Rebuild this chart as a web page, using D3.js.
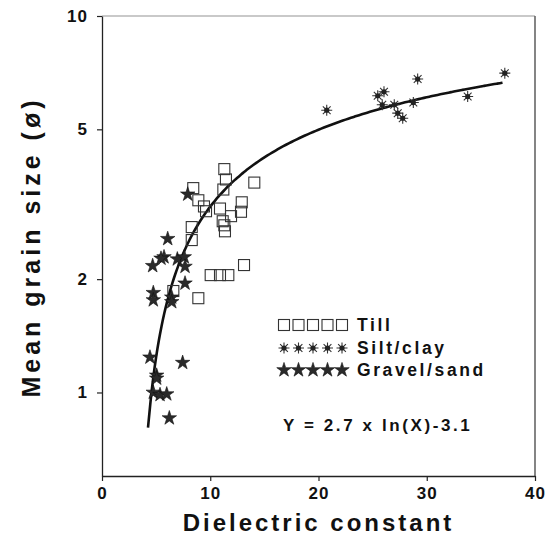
<!DOCTYPE html>
<html>
<head>
<meta charset="utf-8">
<script src="https://cdn.jsdelivr.net/npm/d3@7"></script>
<style>
  body { margin: 0; background: #fff; }
  svg text { font-family: "Liberation Sans", Arial, sans-serif; font-weight: bold; fill: #111; }
</style>
</head>
<body>
<div id="chart"></div>
<script>
// Till (open squares)
var tillX = [11.30, 11.45, 11.21, 14.07, 8.43, 8.90, 9.42, 9.61, 10.90, 12.91, 12.84, 11.92,
             11.15, 11.30, 11.36, 8.29, 8.29, 10.04, 10.90, 11.67, 13.12, 8.90, 6.59];
var tillY = [3.92, 3.68, 3.46, 3.61, 3.49, 3.24, 3.12, 3.03, 3.08, 3.20, 3.02, 2.94,
             2.85, 2.78, 2.68, 2.75, 2.54, 2.05, 2.05, 2.05, 2.18, 1.78, 1.86];
// Silt/clay (asterisks)
var siltX = [20.76, 25.47, 26.05, 25.89, 27.00, 27.32, 27.78, 29.16, 28.76, 33.78, 37.21];
var siltY = [5.62, 6.14, 6.29, 5.81, 5.81, 5.52, 5.35, 6.80, 5.89, 6.11, 7.05];
// Gravel/sand (stars)
var gravelX = [7.92, 6.07, 5.73, 5.45, 4.68, 6.96, 7.60, 7.67, 7.67, 4.74, 4.74, 6.44,
               6.44, 4.43, 7.45, 5.05, 5.05, 4.74, 5.36, 5.98, 6.22];
var gravelY = [3.36, 2.56, 2.29, 2.27, 2.17, 2.26, 2.29, 2.16, 1.95, 1.84, 1.76, 1.79,
               1.74, 1.24, 1.20, 1.11, 1.09, 1.00, 0.986, 0.99, 0.855];
// fitted curve Y = a ln(X) + b
var fitA = 2.7, fitB = -3.1;
var fitRange = [4.25, 37];

var xTicks = [0, 10, 20, 30, 40];
var yTicks = [1, 2, 5, 10];
var legendLabels = ["Till", "Silt/clay", "Gravel/sand"];

var width = 550, height = 539;
var plotL = 102, plotR = 535, plotT = 16, plotB = 476;

var svg = d3.select("#chart").append("svg")
    .attr("width", width)
    .attr("height", height);

var x = d3.scaleLinear().domain([0, 40]).range([plotL, plotR]);
var y = d3.scaleLog().domain([0.6, 10]).range([plotB, plotT]);

// frame
svg.append("line").attr("x1", plotR).attr("x2", plotR).attr("y1", plotT).attr("y2", plotB)
    .attr("stroke", "#333").attr("stroke-width", 1.2);
svg.append("line").attr("x1", plotL).attr("x2", plotR).attr("y1", plotT).attr("y2", plotT)
    .attr("stroke", "#666").attr("stroke-width", 0.7);

var xAxis = svg.append("g")
    .attr("transform", "translate(0," + plotB + ")")
    .call(d3.axisBottom(x).tickValues(xTicks).tickSize(5).tickPadding(6).tickSizeOuter(0));
var yAxis = svg.append("g")
    .attr("transform", "translate(" + plotL + ",0)")
    .call(d3.axisLeft(y).tickValues(yTicks).tickFormat(function(d) { return d; })
        .tickSize(5).tickPadding(9).tickSizeOuter(0));

[xAxis, yAxis].forEach(function(g) {
    g.select(".domain").attr("stroke", "#222").attr("stroke-width", 1.3);
    g.selectAll(".tick line").attr("stroke", "#222").attr("stroke-width", 1.2);
    g.selectAll(".tick text").style("font-size", "17px").style("letter-spacing", "1px").attr("fill", "#111");
});

// axis titles
svg.append("text")
    .attr("x", (plotL + plotR) / 2)
    .attr("y", 531)
    .attr("text-anchor", "middle")
    .style("font-size", "24px")
    .style("letter-spacing", "3px")
    .text("Dielectric constant");

svg.append("text")
    .attr("transform", "translate(40,247) rotate(-90)")
    .attr("text-anchor", "middle")
    .style("font-size", "25px")
    .style("letter-spacing", "4px")
    .text("Mean grain size (ø)");

// fitted curve
var curveX = d3.range(fitRange[0], fitRange[1] + 0.001, 0.25);
var line = d3.line()
    .x(function(d) { return x(d); })
    .y(function(d) { return y(fitA * Math.log(d) + fitB); })
    .curve(d3.curveBasis);
svg.append("path")
    .datum(curveX)
    .attr("d", line)
    .attr("fill", "none")
    .attr("stroke", "#111")
    .attr("stroke-width", 2.6);

// marker drawers
function drawSquare(g, cx, cy) {
    g.append("rect")
        .attr("x", cx - 5.5).attr("y", cy - 5.5)
        .attr("width", 11).attr("height", 11)
        .attr("fill", "none").attr("stroke", "#333").attr("stroke-width", 1.1);
}
var starPath = d3.symbol().type(d3.symbolStar).size(65)();
function drawStar(g, cx, cy) {
    g.append("path")
        .attr("d", starPath)
        .attr("transform", "translate(" + cx + "," + cy + ")")
        .attr("fill", "#2a2a2a").attr("stroke", "#111").attr("stroke-width", 0.6);
}
function drawAsterisk(g, cx, cy) {
    var r = 5.5, p = "";
    for (var i = 0; i < 4; i++) {
        var a = i * Math.PI / 4;
        p += "M" + (cx - r * Math.cos(a)) + "," + (cy - r * Math.sin(a)) +
             "L" + (cx + r * Math.cos(a)) + "," + (cy + r * Math.sin(a));
    }
    g.append("path").attr("d", p).attr("stroke", "#333").attr("stroke-width", 1.1);
    g.append("circle").attr("cx", cx).attr("cy", cy).attr("r", 2.6).attr("fill", "#222");
}

var pts = svg.append("g");
tillX.forEach(function(d, i) { drawSquare(pts, x(d), y(tillY[i])); });
siltX.forEach(function(d, i) { drawAsterisk(pts, x(d), y(siltY[i])); });
gravelX.forEach(function(d, i) { drawStar(pts, x(d), y(gravelY[i])); });

// legend
var legend = svg.append("g");
var drawers = [drawSquare, drawAsterisk, drawStar];
var rowY = [325, 348, 370];
legendLabels.forEach(function(lab, i) {
    for (var k = 0; k < 5; k++) {
        drawers[i](legend, 284 + k * 14.5, rowY[i]);
    }
    legend.append("text")
        .attr("x", 357)
        .attr("y", rowY[i] + 6)
        .style("font-size", "17.5px")
        .style("letter-spacing", "2.6px")
        .text(lab);
});

svg.append("text")
    .attr("x", 283)
    .attr("y", 431)
    .style("font-size", "17px")
    .style("letter-spacing", "2.6px")
    .text("Y = " + fitA + " x ln(X)" + fitB);
</script>
</body>
</html>
